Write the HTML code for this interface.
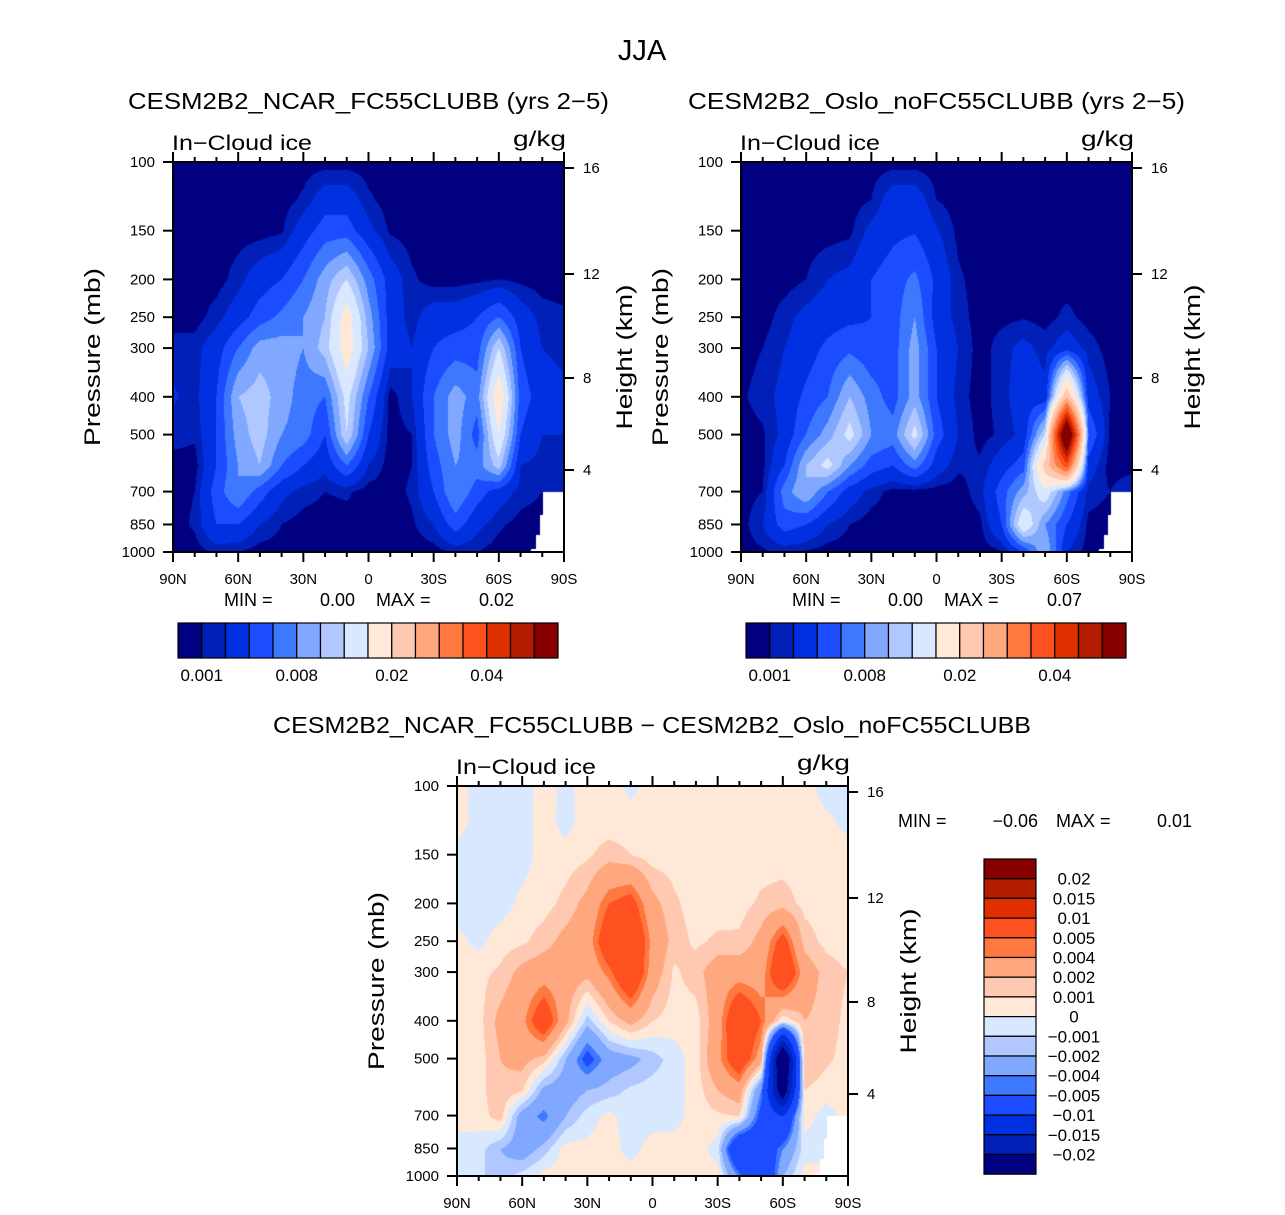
<!DOCTYPE html>
<html><head><meta charset="utf-8">
<style>
html,body{margin:0;padding:0;background:#fff;}
#wrap{position:relative;width:1285px;height:1215px;overflow:hidden;font-family:"Liberation Sans",sans-serif;}
canvas{position:absolute;}
svg{position:absolute;left:0;top:0;}
text{font-family:"Liberation Sans",sans-serif;fill:#000;}
</style></head>
<body>
<div id="wrap">
<canvas id="c1" width="391" height="390" style="left:173px;top:162px"></canvas>
<canvas id="c2" width="391" height="390" style="left:741px;top:162px"></canvas>
<canvas id="c3" width="391" height="391" style="left:457px;top:786px"></canvas>
<svg id="ov" width="1285" height="1215">
<text x="642" y="60" font-size="29" text-anchor="middle">JJA</text>
<text x="128" y="109" font-size="23" textLength="481" lengthAdjust="spacingAndGlyphs">CESM2B2_NCAR_FC55CLUBB (yrs 2−5)</text>
<text x="688" y="109" font-size="23" textLength="497" lengthAdjust="spacingAndGlyphs">CESM2B2_Oslo_noFC55CLUBB (yrs 2−5)</text>
<text x="273" y="733" font-size="23" textLength="758" lengthAdjust="spacingAndGlyphs">CESM2B2_NCAR_FC55CLUBB − CESM2B2_Oslo_noFC55CLUBB</text>
<text x="224" y="606" font-size="18">MIN =</text>
<text x="355" y="606" font-size="18" text-anchor="end">0.00</text>
<text x="376" y="606" font-size="18">MAX =</text>
<text x="514" y="606" font-size="18" text-anchor="end">0.02</text>
<text x="792" y="606" font-size="18">MIN =</text>
<text x="923" y="606" font-size="18" text-anchor="end">0.00</text>
<text x="944" y="606" font-size="18">MAX =</text>
<text x="1082" y="606" font-size="18" text-anchor="end">0.07</text>
<text x="898" y="827" font-size="18">MIN =</text>
<text x="1038" y="827" font-size="18" text-anchor="end">−0.06</text>
<text x="1056" y="827" font-size="18">MAX =</text>
<text x="1192" y="827" font-size="18" text-anchor="end">0.01</text>
</svg>
</div>
<script>
// ---- data (values in 1e-3 g/kg) ----
const LATS = [90,80,70,60,50,40,30,20,10,0,-10,-20,-30,-40,-50,-60,-70,-80,-90];
const PLEV = [100,125,150,200,250,300,400,500,600,700,850,1000];
const levelsAbs = [1,2,4,6,8,10,12,15,20,25,30,35,40,45,50];
const levelsDiff = [-20,-15,-10,-5,-4,-2,-1,0,1,2,4,5,10,15,20];
const labelsAbs = ["0.001","0.008","0.02","0.04"];
const labelsAbsIdx = [0,4,8,12];
const labelsDiff = ["0.02","0.015","0.01","0.005","0.004","0.002","0.001","0","−0.001","−0.002","−0.004","−0.005","−0.01","−0.015","−0.02"];
const PTICKS = [100,150,200,250,300,400,500,700,850,1000];
const LATTICKS = ["90N","60N","30N","0","30S","60S","90S"];
const KMTICKS = ["16","12","8","4"];
const COLORS = ["#000080","#0020b8","#0030e0","#1c4cff","#3e78ff","#80a8ff","#b0c8ff","#d8e8ff","#ffe8d8","#ffc8b0","#ffa880","#ff7840","#ff5020","#e03000","#b41c00","#860000"];

const ncar = [
[.5,.5,.5,.5,.5,.5,.5,.5,.5,.5,.5,.5,.5,.5,.5,.5,.5,.5,.5],
[.5,.5,.5,.5,.5,.5,1.2,3,3,1.2,.5,.5,.5,.5,.5,.5,.5,.5,.5],
[.5,.5,.5,.5,.5,.8,3,5,5,2.5,.8,.5,.5,.5,.5,.5,.5,.5,.5],
[.5,.5,.5,1.5,3,4,6,9,12,7,3,1.2,.5,.5,.7,1,.7,.5,.5],
[.5,.5,1.5,3,5,6.5,8,10,17,9,3,1.5,3,3,4,6,3,1.5,1.2],
[1.5,1.5,3,6,9,9,8,11,17,10,3,2,4,5,5,12,4,2,1.5],
[2.2,1.5,4,10,11,9,7,6,13,6,.5,2,6,9,7,18,5,3,2.5],
[1.5,1.2,4,9,11,8,7,4,12,4,.5,1,6,9,5,15,4,2,2],
[.5,.5,4,8,10,6,4,2.5,6,2,.5,1,5,8,7,11,2,1.5,1.5],
[.5,1,5,8,5,2.5,1.5,1,1.2,.5,.5,1.2,4,8,5,3,1.5,1,2],
[.5,1.2,4,4,2,1,.5,.5,.5,.5,.5,.8,2,5,2.5,1.2,.6,.5,.5],
[.5,.5,1.2,1,.5,.5,.5,.5,.5,.5,.5,.5,.5,1.2,1,.5,.5,.5,.5]];
const oslo = [
[.5,.5,.5,.5,.5,.5,.5,.5,.5,.5,.5,.5,.5,.5,.5,.5,.5,.5,.5],
[.5,.5,.5,.5,.5,.5,1,3,3,1,.5,.5,.5,.5,.5,.5,.5,.5,.5],
[.5,.5,.5,.5,.5,.7,2.5,3.5,3.8,2.2,.7,.5,.5,.5,.5,.5,.5,.5,.5],
[.5,.5,.5,1,2,2.5,4,5,6.5,3.5,1.2,.5,.5,.5,.5,.5,.5,.5,.5],
[.5,.5,1.5,2.5,3,3.5,4,5,8,3,1.5,.5,.7,.9,.6,1.3,.6,.5,.5],
[.5,1,2,3,4.5,5.5,4.5,5,9,4,2,.5,1.5,2.5,1.5,3,1.5,.5,.5],
[.8,1.5,2.5,4.5,6,10,7,5,9,4,1.5,.5,1.5,3,2.5,24,3,1,.5],
[.5,.8,2.5,6,9,13,8,7,13,5,2,.6,1.2,2.5,12,65,6,.7,.5],
[.5,.7,4,10,13,8,5,4,7,3,1.2,1.2,3,5,22,38,3,.5,.5],
[.5,1,7,10,6,3,1.5,.6,.5,.5,.5,1.5,5,9,14,7,1.5,1,2],
[.5,2,5,4,2,1,.5,.5,.5,.5,.5,.7,4,15,8,4,.7,.5,.5],
[.5,.8,1.2,.8,.5,.5,.5,.5,.5,.5,.5,.5,.8,4,10,2,.5,.5,.5]];
const diff = [
[.5,-.5,-.5,-.5,.5,-.3,.5,.5,-.3,.5,.5,.5,.5,.5,.5,.5,.5,-.5,-.5],
[.5,-.5,-.5,-.5,.5,-.4,.5,.5,.5,.5,.5,.5,.5,.5,.5,.5,.5,.3,-.3],
[-.5,-.5,-.5,-.5,.5,.5,.8,1.5,1,.5,.5,.5,.5,.5,.5,.5,.5,.5,.5],
[-.5,-.5,-.5,.3,.6,1.3,2.5,5,6,2.5,1.2,.5,.5,.6,1.2,1.5,.7,.5,.5],
[.3,-.3,.5,.8,1.5,2.5,3,7,8,3.5,1.5,.8,1.2,1.2,2.5,6,1.5,.7,.5],
[.5,.7,1.2,2.5,3,3,2.5,4.5,8,3,.8,1.5,3,3,3,8,3,1.5,1],
[1,.6,2.5,3.5,7,2.5,-1.5,1,2.5,1,.5,.5,3,8,5,0,2,1.5,.7],
[.8,.5,2,2.5,1.5,-2,-6,-3,-2.5,-1.5,-.5,.5,3.5,7,3,-30,2,1.2,.6],
[.5,.6,1.8,1.2,-2.5,-3,-2,-1.5,-.8,-.5,-.5,.5,2,3,-4,-25,1,.5,.5],
[.5,.5,1.5,-3,-4.5,-2,-.5,.3,-.5,-.5,-.4,.5,.8,1,-6,-10,.5,-.5,.5],
[-.5,-.6,-2,-3,-1.5,.5,.3,.5,-.4,.5,.5,.5,-.5,-10,-8,-4,-.5,-.5,-.5],
[-.5,-.8,-1.5,-.5,.5,.5,.5,.5,.5,.5,.5,.5,.5,-4,-10,-2,.5,.5,.5]];

// ---- scales ----
const PW = 391, PH = 390;
function yOfP(p){ return PH*(Math.log10(p)-2); }
function xOfLat(lat){ return PW*(90-lat)/180; }
function hexRGB(h){ return [parseInt(h.substr(1,2),16),parseInt(h.substr(3,2),16),parseInt(h.substr(5,2),16)]; }
const RGB = COLORS.map(hexRGB);
function classOf(v, lv){ let k=0; while(k<lv.length && v>=lv[k]) k++; return k; }
const LOGP = PLEV.map(p=>Math.log10(p));
function sample(grid, lat, logp){
  let c = (90-lat)/10; let ci = Math.min(Math.floor(c), LATS.length-2); let cf = c-ci;
  let ri = 0; while(ri < LOGP.length-2 && logp > LOGP[ri+1]) ri++;
  let rf = (logp-LOGP[ri])/(LOGP[ri+1]-LOGP[ri]); rf=Math.max(0,Math.min(1,rf));
  const a=grid[ri][ci], b=grid[ri][ci+1], d=grid[ri+1][ci], e=grid[ri+1][ci+1];
  return (a*(1-cf)+b*cf)*(1-rf)+(d*(1-cf)+e*cf)*rf;
}
function drawField(id, grid, lv){
  const cv=document.getElementById(id), ctx=cv.getContext('2d');
  const W=cv.width, H=cv.height, img=ctx.createImageData(W,H);
  for(let py=0;py<H;py++){
    const logp = 2 + (py+0.5)/H;
    for(let px=0;px<W;px++){
      const lat = 90 - 180*(px+0.5)/W;
      const col = RGB[classOf(sample(grid,lat,logp),lv)];
      const o=(py*W+px)*4; img.data[o]=col[0]; img.data[o+1]=col[1]; img.data[o+2]=col[2]; img.data[o+3]=255;
    }
  }
  ctx.putImageData(img,0,0);
  ctx.fillStyle='#fff';
  ctx.beginPath();
  [[370,330],[391,330],[391,391],[358,391],[358,387],[363,387],[363,373],[367,373],[367,353],[370,353]].forEach((p,i)=>i?ctx.lineTo(p[0],p[1]):ctx.moveTo(p[0],p[1]));
  ctx.fill();
}
drawField('c1', ncar, levelsAbs);
drawField('c2', oslo, levelsAbs);
drawField('c3', diff, levelsDiff);

// ---- axes ----
const NS='http://www.w3.org/2000/svg';
const ov=document.getElementById('ov');
function mk(tag, attrs, txt){ const e=document.createElementNS(NS,tag); for(const k in attrs) e.setAttribute(k,attrs[k]); if(txt!==undefined) e.textContent=txt; ov.appendChild(e); return e; }
const KMOFF = [6,112,216,308];
function axes(ox, oy, tag){
  let e;
  e=mk('rect',{x:ox,y:oy,width:PW,height:PH,fill:'none',stroke:'#000','stroke-width':2});
  
  
  for(let lat=90; lat>=-90; lat-=10){
    const x=ox+xOfLat(lat), L=(lat%30===0)?10:5;
    e=mk('line',{x1:x,y1:oy+PH,x2:x,y2:oy+PH+L,stroke:'#000','stroke-width':2});
    
    
    e=mk('line',{x1:x,y1:oy,x2:x,y2:oy-L,stroke:'#000','stroke-width':2});
    
    
  }
  LATTICKS.forEach((s,i)=>{
    e=mk('text',{x:ox+PW*i/6,y:oy+PH+32,'font-size':15,'text-anchor':'middle'},s);
    
    
  });
  PTICKS.forEach(p=>{
    const y=oy+yOfP(p);
    e=mk('line',{x1:ox-10,y1:y,x2:ox,y2:y,stroke:'#000','stroke-width':2});
    
    
    e=mk('text',{x:ox-18,y:y+5,'font-size':15,'text-anchor':'end'},String(p));
    
    
  });
  KMTICKS.forEach((s,i)=>{
    const y=oy+KMOFF[i];
    e=mk('line',{x1:ox+PW,y1:y,x2:ox+PW+10,y2:y,stroke:'#000','stroke-width':2});
    
    
    e=mk('text',{x:ox+PW+19,y:y+5,'font-size':15},s);
    
    
  });
  e=mk('text',{x:ox-1,y:oy-12,'font-size':21,textLength:140,lengthAdjust:'spacingAndGlyphs'},'In−Cloud ice');
  
  
  e=mk('text',{x:ox+PW+2,y:oy-16,'font-size':21,'text-anchor':'end',textLength:53,lengthAdjust:'spacingAndGlyphs'},'g/kg');
  
  
  const cy=oy+195;
  e=mk('text',{x:0,y:0,'font-size':22,'text-anchor':'middle',textLength:178,lengthAdjust:'spacingAndGlyphs',transform:`translate(${ox-73},${cy}) rotate(-90)`},'Pressure (mb)');
  
  
  e=mk('text',{x:0,y:0,'font-size':22,'text-anchor':'middle',textLength:145,lengthAdjust:'spacingAndGlyphs',transform:`translate(${ox+PW+68},${cy}) rotate(-90)`},'Height (km)');
  
  
}
axes(173,162,'panel1');
axes(741,162,'panel2');
axes(457,786,'panel3');

function hbar(ox, oy, tag){
  let e; const bw=23.75;
  COLORS.forEach((c,i)=>{
    e=mk('rect',{x:ox+i*bw,y:oy,width:bw,height:35,fill:c,stroke:'#000','stroke-width':1.2});
    
    
  });
  labelsAbs.forEach((s,i)=>{
    e=mk('text',{x:ox+(labelsAbsIdx[i]+1)*bw,y:oy+58,'font-size':17,'text-anchor':'middle'},s);
    
    
  });
}
hbar(178,623,'panel1');
hbar(746,623,'panel2');
(function(){
  let e; const ox=984, oy=859, bh=19.7;
  for(let i=0;i<16;i++){
    e=mk('rect',{x:ox,y:oy+i*bh,width:52,height:bh,fill:COLORS[15-i],stroke:'#000','stroke-width':1.2});
    
    
  }
  labelsDiff.forEach((s,i)=>{
    e=mk('text',{x:1074,y:oy+(i+1)*bh+6,'font-size':17,'text-anchor':'middle'},s);
    
    
  });
})();
</script>
</body></html>
